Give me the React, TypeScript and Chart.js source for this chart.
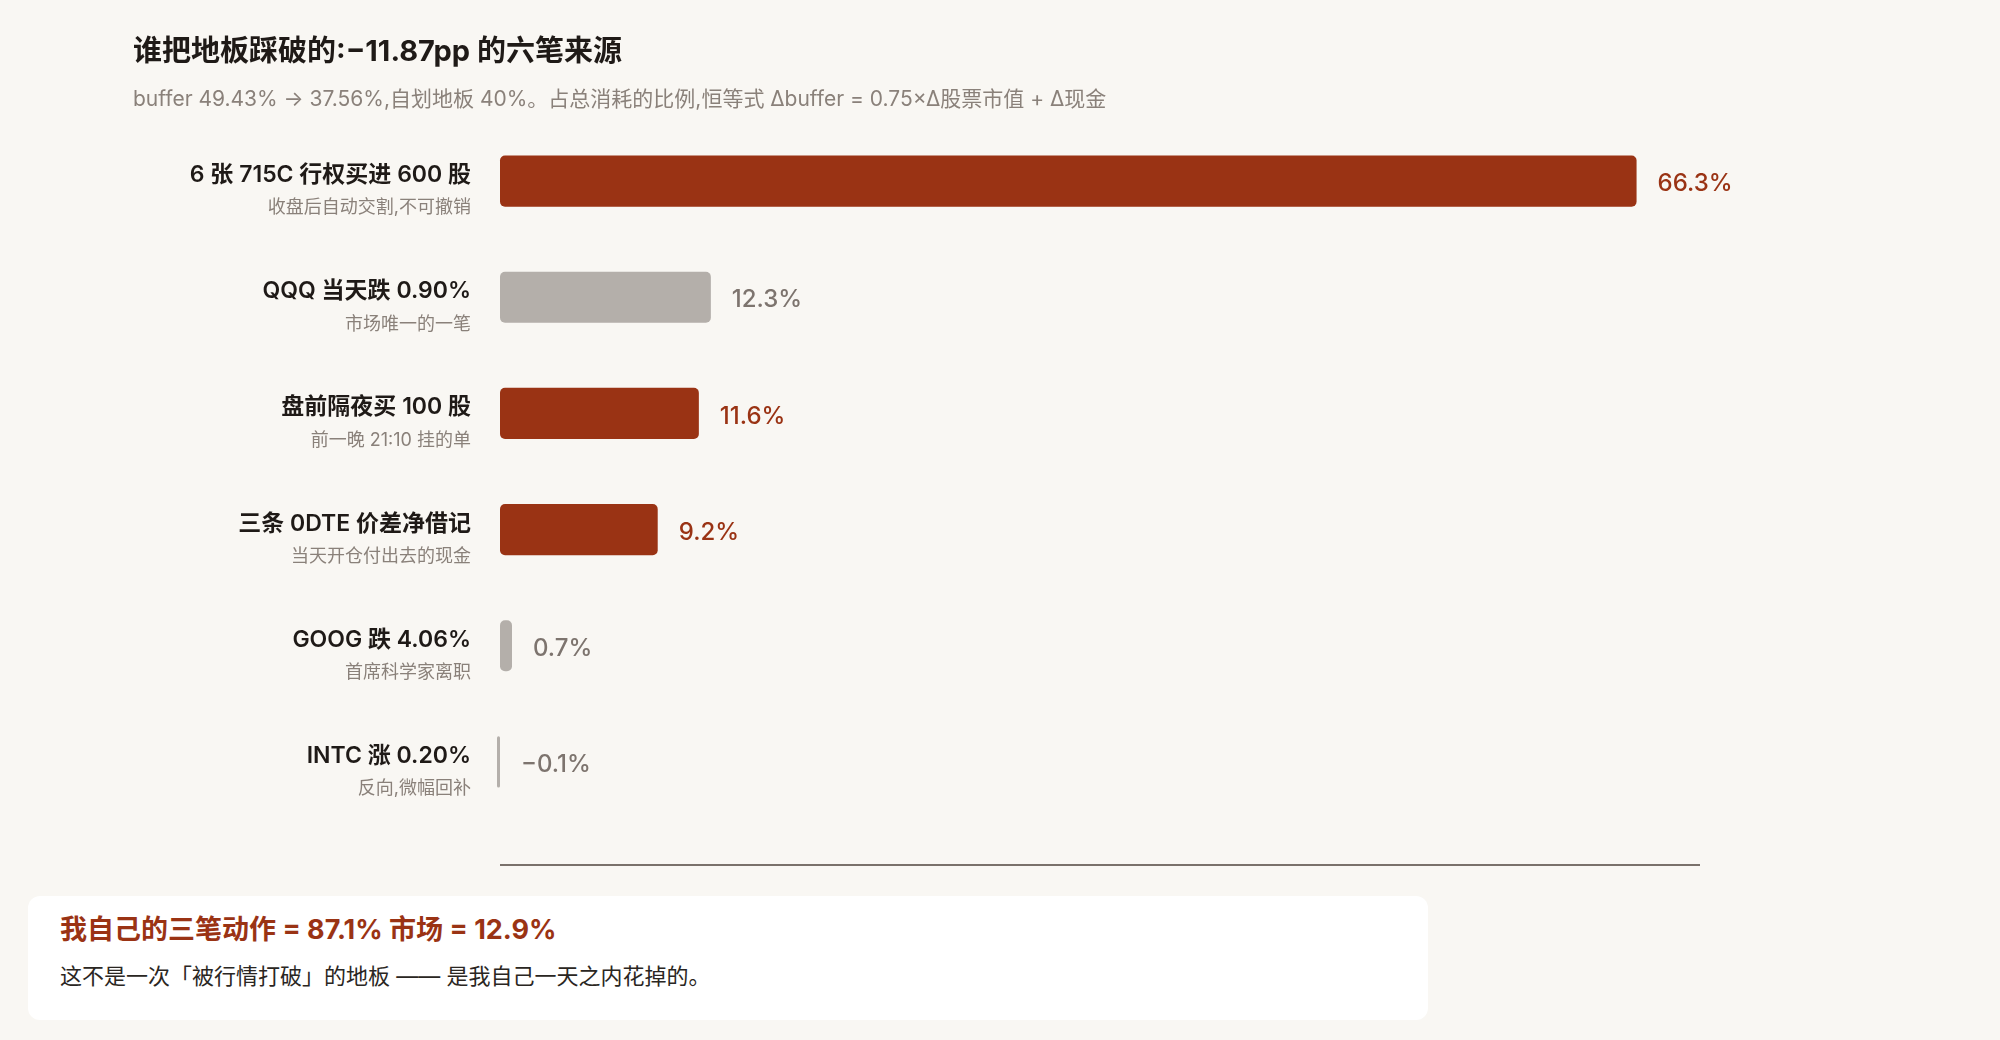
import React, { useEffect, useRef } from 'react';
import { Chart, registerables } from 'chart.js';

Chart.register(...registerables);

const categories = ['6 张 715C 行权买进 600 股', 'QQQ 当天跌 0.90%', '盘前隔夜买 100 股', '三条 0DTE 价差净借记', 'GOOG 跌 4.06%', 'INTC 涨 0.20%'];
const notes = ['收盘后自动交割,不可撤销', '市场唯一的一笔', '前一晚 21:10 挂的单', '当天开仓付出去的现金', '首席科学家离职', '反向,微幅回补'];
const shares = [66.3, 12.3, 11.6, 9.2, 0.7, -0.1];
const kinds = ['self', 'market', 'self', 'self', 'market', 'market'];
const xTicks = [0, 70];

const titleText = '谁把地板踩破的:−11.87pp 的六笔来源';
const subtitleText = 'buffer 49.43% → 37.56%,自划地板 40%。占总消耗的比例,恒等式 Δbuffer = 0.75×Δ股票市值 + Δ现金';
const summaryHead = '我自己的三笔动作 = 87.1% 市场 = 12.9%';
const summaryBody = '这不是一次「被行情打破」的地板 —— 是我自己一天之内花掉的。';

const FONT = 'Inter, "Noto Sans CJK SC", sans-serif';
const RUST = '#9a3314';
const GREY_BAR = '#b4afaa';
const GREY_TEXT = '#7d746e';
const INK = '#1f1a17';
const BG = '#f9f7f3';

const fmt = (v: number) => (v < 0 ? '−' + Math.abs(v).toFixed(1) : v.toFixed(1)) + '%';

// row labels (bold name + grey note) and value labels at bar ends
const labelsPlugin = {
  id: 'rowLabels',
  afterDatasetsDraw(chart: any) {
    const { ctx, chartArea, scales } = chart;
    const meta = chart.getDatasetMeta(0);
    ctx.save();
    categories.forEach((name, i) => {
      const y = scales.y.getPixelForValue(i);
      ctx.textAlign = 'right';
      ctx.textBaseline = 'middle';
      ctx.fillStyle = INK;
      ctx.font = `600 23px ${FONT}`;
      ctx.fillText(name, chartArea.left - 29, y - 6);
      ctx.fillStyle = '#8a817a';
      ctx.font = `18px ${FONT}`;
      ctx.fillText(notes[i], chartArea.left - 29, y + 27);

      const bar = meta.data[i];
      const end = Math.max(bar.x, bar.base);
      ctx.textAlign = 'left';
      ctx.fillStyle = kinds[i] === 'self' ? RUST : GREY_TEXT;
      ctx.font = `500 24px ${FONT}`;
      ctx.fillText(fmt(shares[i]), end + 21, y + 3);
    });
    // baseline under the rows
    const x0 = scales.x.getPixelForValue(xTicks[0]);
    const x1 = scales.x.getPixelForValue(xTicks[1]);
    ctx.strokeStyle = '#7a716b';
    ctx.lineWidth = 2;
    ctx.beginPath();
    ctx.moveTo(x0, chartArea.bottom + 45);
    ctx.lineTo(x1, chartArea.bottom + 45);
    ctx.stroke();
    ctx.restore();
  },
};

const App = () => {
  const chartRef = useRef<HTMLCanvasElement | null>(null);

  useEffect(() => {
    document.body.style.margin = '0';
    document.body.style.background = BG;
    let chartInstance: Chart | null = null;
    const ctx = chartRef.current!.getContext('2d')!;

    chartInstance = new Chart(ctx, {
      type: 'bar',
      data: {
        labels: categories,
        datasets: [
          {
            data: shares,
            backgroundColor: kinds.map((k) => (k === 'self' ? RUST : GREY_BAR)),
            borderRadius: 5,
            borderSkipped: false,
            barPercentage: 0.44,
            categoryPercentage: 1,
            minBarLength: 3,
            clip: false as any,
          },
        ],
      },
      options: {
        indexAxis: 'y',
        animation: false,
        responsive: true,
        maintainAspectRatio: false,
        layout: { padding: { left: 133, right: 300, top: 22, bottom: 60 } },
        scales: {
          x: {
            display: false,
            min: xTicks[0],
            max: xTicks[1],
          },
          y: {
            display: true,
            ticks: { display: false },
            grid: { display: false },
            border: { display: false },
            afterFit: (scale: any) => {
              scale.width = 367;
            },
          },
        },
        plugins: {
          legend: { display: false },
          tooltip: { enabled: false },
          title: {
            display: true,
            text: titleText,
            align: 'start',
            color: INK,
            font: { family: FONT, size: 29, weight: 'bold' },
            padding: { top: 13, bottom: 8 },
          },
          subtitle: {
            display: true,
            text: subtitleText,
            align: 'start',
            color: '#8a817a',
            font: { family: FONT, size: 21 },
            padding: { top: 9, bottom: 11 },
          },
        },
      },
      plugins: [labelsPlugin],
    });

    return () => {
      if (chartInstance) {
        chartInstance.destroy();
      }
    };
  }, []);

  return (
    <div style={{ position: 'relative', width: 2000, height: 1040, background: BG }}>
      <div style={{ position: 'relative', width: 2000, height: 880 }}>
        <canvas ref={chartRef} />
      </div>
      <div
        style={{
          position: 'absolute',
          left: 28,
          top: 896,
          width: 1400,
          height: 124,
          background: '#ffffff',
          borderRadius: 12,
          fontFamily: FONT,
        }}
      >
        <div style={{ position: 'absolute', left: 32, top: 18, fontSize: 27, fontWeight: 'bold', color: RUST, lineHeight: '32px', whiteSpace: 'nowrap' }}>
          {summaryHead}
        </div>
        <div style={{ position: 'absolute', left: 32, top: 67, fontSize: 22, color: '#2a2622', lineHeight: '26px', whiteSpace: 'nowrap' }}>
          {summaryBody}
        </div>
      </div>
    </div>
  );
};

export default App;
